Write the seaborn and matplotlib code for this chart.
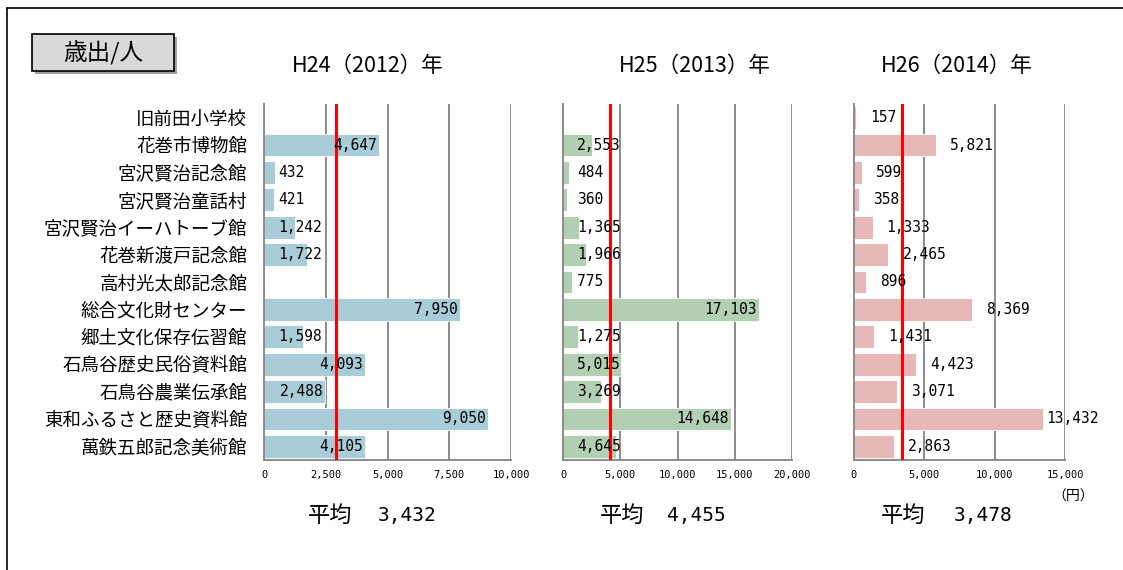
import numpy as np
import pandas as pd
import matplotlib
matplotlib.use('Agg')
import matplotlib.pyplot as plt
import seaborn as sns
from matplotlib.patches import Rectangle
from matplotlib.lines import Line2D

facilities = ['旧前田小学校', '花巻市博物館', '宮沢賢治記念館', '宮沢賢治童話村',
              '宮沢賢治イーハトーブ館', '花巻新渡戸記念館', '高村光太郎記念館',
              '総合文化財センター', '郷土文化保存伝習館', '石鳥谷歴史民俗資料館',
              '石鳥谷農業伝承館', '東和ふるさと歴史資料館', '萬鉄五郎記念美術館']
h24 = [np.nan, 4647, 432, 421, 1242, 1722, np.nan, 7950, 1598, 4093, 2488, 9050, 4105]
h25 = [np.nan, 2553, 484, 360, 1365, 1966, 775, 17103, 1275, 5015, 3269, 14648, 4645]
h26 = [157, 5821, 599, 358, 1333, 2465, 896, 8369, 1431, 4423, 3071, 13432, 2863]
years = ['H24（2012）年', 'H25（2013）年', 'H26（2014）年']
averages = [3432, 4455, 3478]
red_lines = [2900, 4100, 3450]   # red reference line as drawn in the source
x_max = [10000, 20000, 15000]
x_step = [2500, 5000, 5000]
bar_colors = ['#a9cdd8', '#b2cfb3', '#e6b8b8']

df = pd.DataFrame({'facility': facilities, 'H24': h24, 'H25': h25, 'H26': h26})

W, H = 1123, 570
DPI = 100
sns.set_style('white')
plt.rcParams['font.family'] = ['Noto Sans CJK JP', 'DejaVu Sans']
plt.rcParams['text.color'] = 'black'
plt.rcParams['xtick.labelcolor'] = 'black'
plt.rcParams['ytick.labelcolor'] = 'black'
MONO = ['DejaVu Sans Mono', 'Noto Sans CJK JP']
GRAY = '#8c8c8c'

fig = plt.figure(figsize=(W / DPI, H / DPI), dpi=DPI)


def fx(px):
    return px / W


def fy(py):
    return 1 - py / H


# axes placement in pixels: left, right
boxes = [(264, 511), (563.3, 791.7), (853.7, 1065.3)]
top_px, bot_px = 104, 460
title_x = [368, 695, 957]
heikin_x = [330, 622, 903]
avg_x = [407, 696, 983]

for k, col in enumerate(['H24', 'H25', 'H26']):
    l, r = boxes[k]
    ax = fig.add_axes([fx(l), fy(bot_px), fx(r - l), (bot_px - top_px) / H])
    sns.barplot(data=df, x=col, y='facility', order=facilities, color=bar_colors[k],
                width=0.83, errorbar=None, saturation=1, edgecolor='white',
                linewidth=0.6, ax=ax)
    ax.set_xlim(0, x_max[k])
    ax.set_ylim(len(facilities) - 0.5, -0.5)
    ticks = np.arange(0, x_max[k] + 1, x_step[k])
    ax.set_xticks(ticks)
    ax.set_xticklabels(['{:,}'.format(v) for v in ticks], family=MONO, fontsize=7.5)
    ax.set_xlabel('')
    ax.set_ylabel('')
    ax.set_axisbelow(True)
    ax.grid(axis='x', color=GRAY, lw=1.4)
    ax.grid(axis='y', visible=False)
    for s in ['top', 'right']:
        ax.spines[s].set_visible(False)
    for s in ['left', 'bottom']:
        ax.spines[s].set_color(GRAY)
        ax.spines[s].set_linewidth(1.4)
    ax.set_yticks(np.arange(-0.5, len(facilities)), minor=True)
    ax.tick_params(axis='y', which='major', length=0, pad=12, labelsize=13.3)
    ax.tick_params(axis='y', which='minor', length=5, width=1.2, color=GRAY)
    ax.tick_params(axis='x', length=4, width=1.2, color=GRAY, pad=3)
    if k > 0:
        ax.set_yticklabels([])

    ax.axvline(red_lines[k], color='#ff0000', lw=2.2, zorder=5)

    # value labels
    px_per = (r - l) / x_max[k]
    fs = 10.5
    cell = 0.602 * fs * DPI / 72
    vals = df[col].tolist()
    for i, v in enumerate(vals):
        if pd.isna(v):
            continue
        s = '{:,}'.format(int(v))
        tw = len(s) * cell
        bar_px = v * px_per
        if k < 2:
            if bar_px >= tw + 15:
                x0 = bar_px - 2 - tw
            else:
                x0 = 14
        else:
            x0 = min(bar_px + 14, (r - l) + 34 - tw)
        ax.annotate(s, xy=(0, i), xytext=(x0, 0), textcoords='offset pixels',
                    ha='left', va='center', family=MONO, fontsize=fs, zorder=6)

    fig.text(fx(title_x[k]), fy(66), years[k], ha='center', va='center', fontsize=15.5)
    fig.text(fx(heikin_x[k]), fy(515), '平均', ha='center', va='center', fontsize=16)
    fig.text(fx(avg_x[k]), fy(515), '{:,}'.format(averages[k]), ha='center',
             va='center', family=MONO, fontsize=14)

fig.text(fx(1073), fy(497), '（円）', ha='center', va='center', fontsize=10)

# title box with shadow
fig.patches.append(Rectangle((fx(35), fy(74)), fx(142), 37 / H, transform=fig.transFigure,
                             facecolor='#a0a0a0', edgecolor='none', zorder=1))
fig.patches.append(Rectangle((fx(32), fy(71)), fx(142), 37 / H, transform=fig.transFigure,
                             facecolor='#d9d9d9', edgecolor='black', lw=1.2, zorder=2))
fig.text(fx(103), fy(53), '歳出/人', ha='center', va='center', fontsize=17, zorder=3)

# outer frame (continues past right and bottom of the crop)
fig.lines.append(Line2D([fx(7), fx(7)], [fy(8), 0], transform=fig.transFigure,
                        color='black', lw=1.2))
fig.lines.append(Line2D([fx(7), 1], [fy(8), fy(8)], transform=fig.transFigure,
                        color='black', lw=1.2))

fig.savefig('out.png', dpi=DPI, facecolor='white')
